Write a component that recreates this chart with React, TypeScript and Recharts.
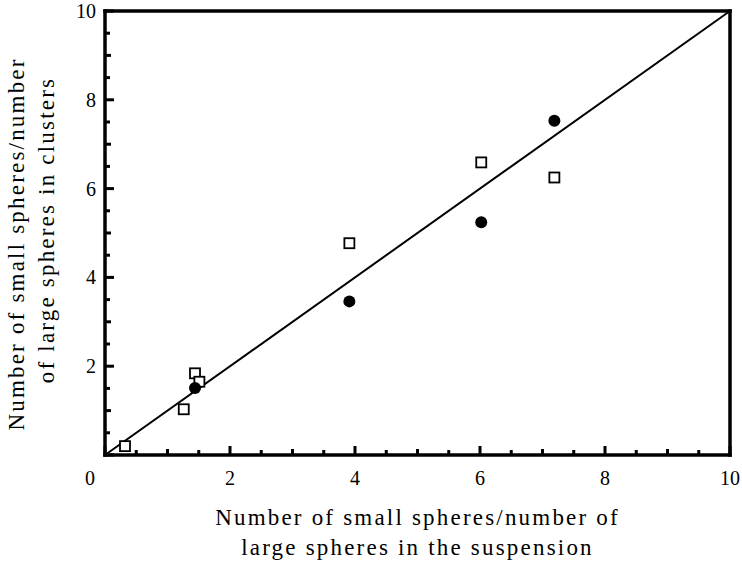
import {
  Label,
  ReferenceLine,
  Scatter,
  ScatterChart,
  XAxis,
  YAxis,
} from "recharts"

// open squares
const squareX = [0.32, 1.26, 1.44, 1.51, 3.91, 6.02, 7.19]
const squareY = [0.2, 1.03, 1.84, 1.65, 4.77, 6.59, 6.25]
// filled circles
const circleX = [1.44, 3.91, 6.02, 7.19]
const circleY = [1.51, 3.46, 5.24, 7.53]

// fitted line y = x
const lineStart = { x: 0, y: 0 }
const lineEnd = { x: 10, y: 10 }

const axisTicks = [
  0, 0.5, 1, 1.5, 2, 2.5, 3, 3.5, 4, 4.5, 5, 5.5, 6, 6.5, 7, 7.5, 8, 8.5, 9,
  9.5, 10,
]
const labelledTicks = [0, 2, 4, 6, 8, 10]

const xTitle = [
  "Number of small spheres/number of",
  "large spheres in the suspension",
]
const yTitle = ["Number of small spheres/number", "of large spheres in clusters"]

const squares = squareX.map((x, i) => ({ x, y: squareY[i] }))
const circles = circleX.map((x, i) => ({ x, y: circleY[i] }))

const FONT = "Liberation Serif, Times New Roman, serif"
const frame = { stroke: "#000", strokeWidth: 3.5, strokeLinecap: "square" as const }

function tickLen(v: number) {
  return Number.isInteger(v) ? (v % 2 === 0 ? 9 : 6) : 5
}

function tickText(x: number, y: number, v: number, anchor: string) {
  return (
    <text
      x={x}
      y={y}
      textAnchor={anchor}
      style={{ fontFamily: FONT, fontSize: 20, fill: "#000" }}
    >
      {v}
    </text>
  )
}

function BottomTick(p: any) {
  const v = p.payload.value
  return (
    <g>
      <line x1={p.x} y1={p.y} x2={p.x} y2={p.y - tickLen(v)} stroke="#000" strokeWidth={3} />
      {labelledTicks.includes(v) && tickText(v === 0 ? p.x - 15 : p.x, p.y + 30, v, "middle")}
    </g>
  )
}

function TopTick(p: any) {
  const v = p.payload.value
  return (
    <line x1={p.x} y1={p.y} x2={p.x} y2={p.y + tickLen(v)} stroke="#000" strokeWidth={3} />
  )
}

function LeftTick(p: any) {
  const v = p.payload.value
  return (
    <g>
      <line x1={p.x} y1={p.y} x2={p.x + tickLen(v)} y2={p.y} stroke="#000" strokeWidth={3} />
      {v !== 0 && labelledTicks.includes(v) && tickText(p.x - 9, p.y + 7, v, "end")}
    </g>
  )
}

function RightTick(p: any) {
  const v = p.payload.value
  return (
    <line x1={p.x} y1={p.y} x2={p.x - tickLen(v)} y2={p.y} stroke="#000" strokeWidth={3} />
  )
}

function SquareDot(p: any) {
  return (
    <rect
      x={p.cx - 5}
      y={p.cy - 5}
      width={10}
      height={10}
      fill="#fff"
      stroke="#000"
      strokeWidth={1.8}
    />
  )
}

function CircleDot(p: any) {
  return <circle cx={p.cx} cy={p.cy} r={6} fill="#000" />
}

const titleStyle = {
  fontFamily: FONT,
  fontSize: 23,
  letterSpacing: 2.2,
  fill: "#000",
}

function XTitle(props: any) {
  const vb = props.viewBox
  const cx = vb.x + vb.width / 2
  return (
    <g>
      <text x={cx} y={vb.y + 70} textAnchor="middle" style={titleStyle}>
        {xTitle[0]}
      </text>
      <text x={cx} y={vb.y + 100} textAnchor="middle" style={titleStyle}>
        {xTitle[1]}
      </text>
    </g>
  )
}

function YTitle(props: any) {
  const vb = props.viewBox
  const right = vb.x + vb.width
  return (
    <g>
      <text
        transform={`translate(${right - 81},${vb.y + 233}) rotate(-90)`}
        textAnchor="middle"
        style={titleStyle}
      >
        {yTitle[0]}
      </text>
      <text
        transform={`translate(${right - 51},${vb.y + 219}) rotate(-90)`}
        textAnchor="middle"
        style={titleStyle}
      >
        {yTitle[1]}
      </text>
    </g>
  )
}

export default function App() {
  return (
    <div style={{ position: "absolute", left: 0, top: 0, width: 742, height: 568, background: "#fff" }}>
      <ScatterChart
        width={742}
        height={568}
        margin={{ top: 10, right: 11, bottom: 112, left: 104 }}
      >
        <XAxis
          xAxisId="b"
          type="number"
          dataKey="x"
          domain={[0, 10]}
          ticks={axisTicks}
          interval={0}
          height={1}
          tickSize={0}
          tickMargin={0}
          axisLine={frame}
          tickLine={false}
          tick={<BottomTick />}
        >
          <Label content={<XTitle />} />
        </XAxis>
        <XAxis
          xAxisId="t"
          orientation="top"
          type="number"
          dataKey="x"
          domain={[0, 10]}
          ticks={axisTicks}
          interval={0}
          height={1}
          tickSize={0}
          tickMargin={0}
          axisLine={frame}
          tickLine={false}
          tick={<TopTick />}
        />
        <YAxis
          yAxisId="l"
          type="number"
          dataKey="y"
          domain={[0, 10]}
          ticks={axisTicks}
          interval={0}
          width={1}
          tickSize={0}
          tickMargin={0}
          axisLine={frame}
          tickLine={false}
          tick={<LeftTick />}
        >
          <Label content={<YTitle />} />
        </YAxis>
        <YAxis
          yAxisId="r"
          orientation="right"
          type="number"
          dataKey="y"
          domain={[0, 10]}
          ticks={axisTicks}
          interval={0}
          width={1}
          tickSize={0}
          tickMargin={0}
          axisLine={frame}
          tickLine={false}
          tick={<RightTick />}
        />
        <ReferenceLine
          xAxisId="b"
          yAxisId="l"
          segment={[lineStart, lineEnd]}
          stroke="#000"
          strokeWidth={2}
        />
        <Scatter
          xAxisId="b"
          yAxisId="l"
          data={squares}
          shape={<SquareDot />}
          isAnimationActive={false}
        />
        <Scatter
          xAxisId="b"
          yAxisId="l"
          data={circles}
          shape={<CircleDot />}
          isAnimationActive={false}
        />
      </ScatterChart>
    </div>
  )
}
